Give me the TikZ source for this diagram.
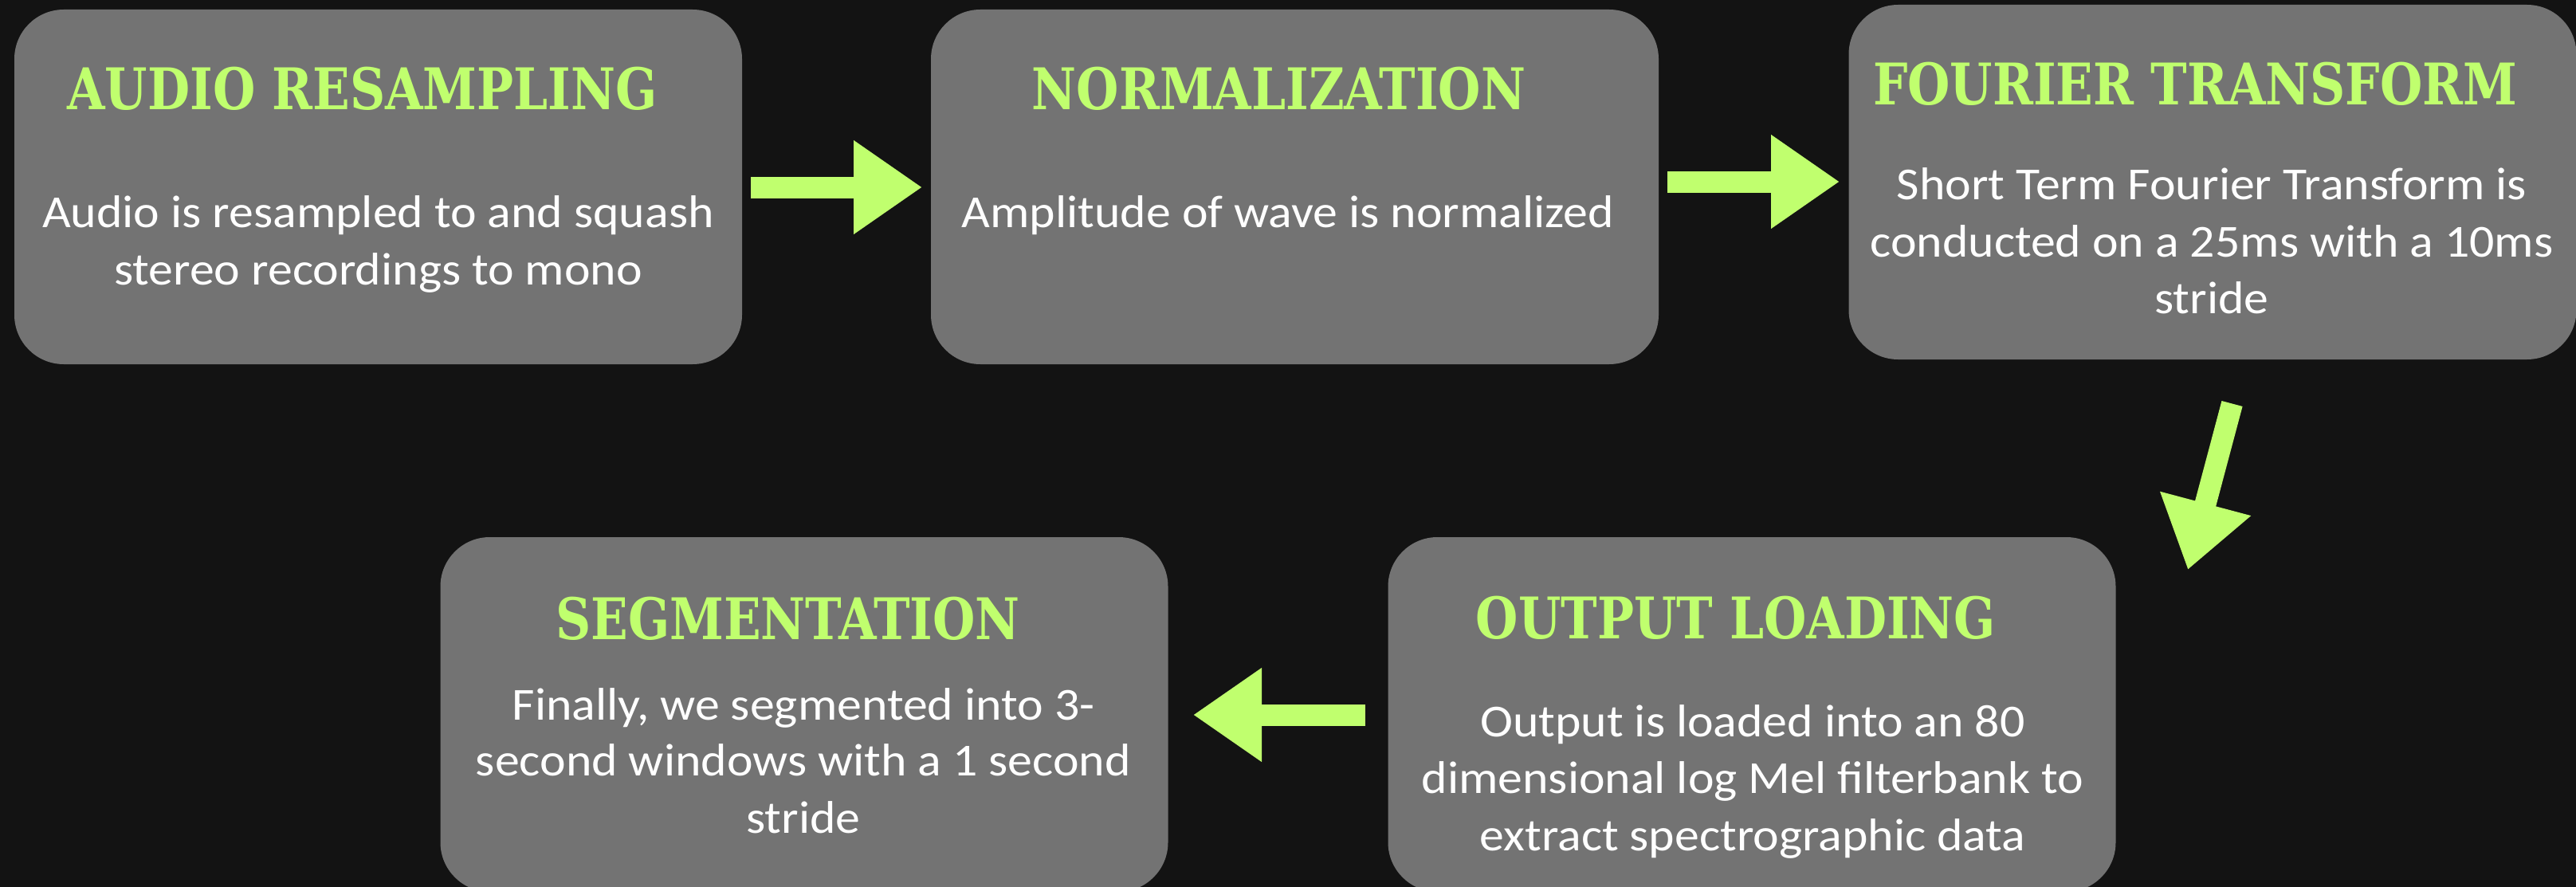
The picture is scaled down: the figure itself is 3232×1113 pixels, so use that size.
\documentclass[tikz,border=0pt]{standalone}
\usepackage{fontspec}
\setmainfont{Carlito}[FakeStretch=1.075]
\newfontfamily\titlefont{DejaVu Serif Condensed}[FakeStretch=0.945]
\usetikzlibrary{arrows.meta}
\definecolor{bg}{HTML}{131313}
\definecolor{boxgray}{HTML}{737373}
\definecolor{lime}{HTML}{C0FF6E}
\begin{document}
\begin{tikzpicture}[x=1pt,y=-1pt,
  stepbox/.style={fill=boxgray, draw=none, rounded corners=62pt, minimum width=913pt, minimum height=445pt, inner sep=0pt},
  ttl/.style={anchor=base, text=lime, inner sep=0pt, font=\titlefont\bfseries\fontsize{72}{80}\selectfont},
  body/.style={anchor=base, text=white, inner sep=0pt, font=\fontsize{57.5}{70}\selectfont},
  blockarrow/.style={draw=lime, line width=27pt, -{Triangle[width=112pt,length=86pt]}}]
\useasboundingbox (0,0) rectangle (3232,1113);
\fill[bg] (0,0) rectangle (3232,1113);
\clip (0,0) rectangle (3232,1113);

% boxes
\node[stepbox] (b1) at (474.5,234.5) {};
\node[stepbox] (b2) at (1624.5,234.5) {};
\node[stepbox] (b3) at (2776,228.5) {};
\node[stepbox] (b4) at (1009,896.5) {};
\node[stepbox] (b5) at (2198,896.5) {};

% box 1
\node[ttl] (t1) at (454.5,138) {AUDIO RESAMPLING};
\node[body] (d1a) at (474.5,285) {Audio is resampled to and squash};
\node[body] (d1b) at (474.5,357) {stereo recordings to mono};

% box 2
\node[ttl] (t2) at (1604.5,138) {NORMALIZATION};
\node[body] (d2a) at (1616,285) {Amplitude of wave is normalized};

% box 3
\node[ttl] (t3) at (2754,132) {FOURIER TRANSFORM};
\node[body] (d3a) at (2775,250) {Short Term Fourier Transform is};
\node[body] (d3b) at (2775,322) {conducted on a 25ms with a 10ms};
\node[body] (d3c) at (2775,393) {stride};

% box 4
\node[ttl] (t4) at (988.5,802) {SEGMENTATION};
\node[body] (d4a) at (1008,903) {Finally, we segmented into 3-};
\node[body] (d4b) at (1008,973) {second windows with a 1 second};
\node[body] (d4c) at (1008,1045) {stride};

% box 5
\node[ttl] (t5) at (2178,801) {OUTPUT LOADING};
\node[body] (d5a) at (2199,924) {Output is loaded into an 80};
\node[body] (d5b) at (2199,995) {dimensional log Mel filterbank to};
\node[body] (d5c) at (2199,1067) {extract spectrographic data};

% arrows
\coordinate (a1s) at (942,235);
\coordinate (a1e) at (1157,235);
\coordinate (a2s) at (2092,228);
\coordinate (a2e) at (2308,228);
\coordinate (a3s) at (2800.5,506.5);
\coordinate (a3e) at (2745,715);
\coordinate (a4s) at (1713,897);
\coordinate (a4e) at (1497,897);
\draw[blockarrow] (a1s) -- (a1e);
\draw[blockarrow] (a2s) -- (a2e);
\draw[blockarrow] (a3s) -- (a3e);
\draw[blockarrow] (a4s) -- (a4e);
\end{tikzpicture}
\end{document}
